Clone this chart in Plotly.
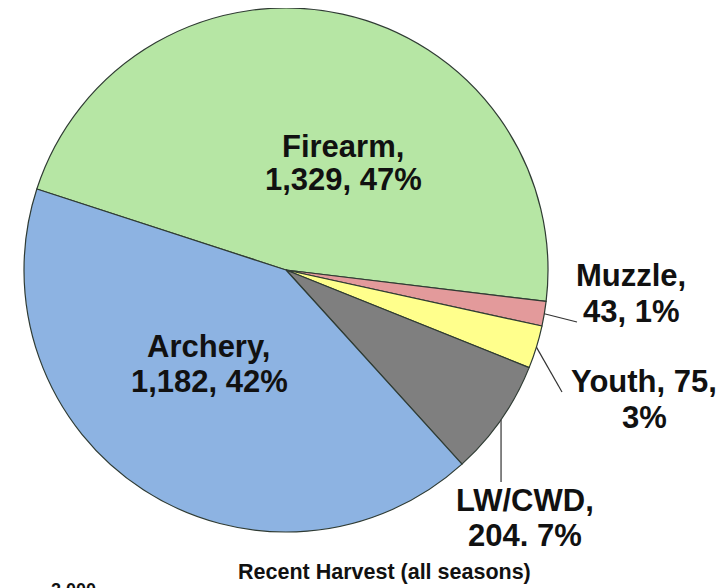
import math
import plotly.graph_objects as go

# Harvest by season type
labels = ["Firearm", "Muzzle", "Youth", "LW/CWD", "Archery"]
values = [1329, 43, 75, 204, 1182]
label_lines = [
    ["Firearm,", "1,329, 47%"],
    ["Muzzle,", "43, 1%"],
    ["Youth, 75,", "3%"],
    ["LW/CWD,", "204. 7%"],
    ["Archery,", "1,182, 42%"],
]
colors = ["#b6e6a4", "#e39a9b", "#ffff8c", "#7f7f7f", "#8db3e2"]
title_text = "Recent Harvest (all seasons)"

# the page body has an 8px margin, so the figure is drawn from (8, 8)
OFF = 8
W, H = 725 - OFF, 588 - OFF
CX, CY, R = 286, 270, 262   # pie centre / radius in window pixels
ROTATION = -72

def px(x):
    return (x - OFF) / W

def py(y):
    return 1 - (y - OFF) / H

fig = go.Figure()
fig.add_trace(
    go.Pie(
        labels=labels,
        values=values,
        sort=False,
        direction="clockwise",
        rotation=ROTATION,
        marker=dict(colors=colors, line=dict(color="#2f3b33", width=1.2)),
        textinfo="none",
        hoverinfo="label+value+percent",
        showlegend=False,
        domain=dict(x=[px(CX - R), px(CX + R)], y=[py(CY + R), min(1, py(CY - R))]),
    )
)

# edge point of each slice, from the values
total = sum(values)
edge = []
cum = 0
for v in values:
    mid = math.radians(ROTATION + 360 * (cum + v / 2) / total)
    edge.append((CX + R * math.sin(mid), CY - R * math.cos(mid)))
    cum += v

# centre x and the two line centres y of each label
label_pos = [(343, 146, 180), (631, 275, 311), (644, 381, 417), (525, 500, 535), (209, 346, 381)]
leader_end = {1: (577, 322), 2: (562, 392), 3: (None, 482)}

font = dict(family="Liberation Sans, Arial, sans-serif", size=31, color="#111111")
for lines, (x, y1, y2) in zip(label_lines, label_pos):
    for t, y in zip(lines, (y1, y2)):
        fig.add_annotation(
            x=px(x), y=py(y), xref="paper", yref="paper",
            text="<b>" + t + "</b>", showarrow=False,
            font=font, xanchor="center", yanchor="middle",
        )

for i, (ex, ey) in leader_end.items():
    sx, sy = edge[i]
    if ex is None:
        ex = sx
    fig.add_shape(
        type="line", xref="paper", yref="paper",
        x0=px(sx), y0=py(sy), x1=px(ex), y1=py(ey),
        line=dict(color="#333333", width=1.2),
    )

fig.add_annotation(
    x=px(384), y=py(572), xref="paper", yref="paper",
    text="<b>" + title_text + "</b>", showarrow=False,
    font=dict(family="Liberation Sans, Arial, sans-serif", size=21.5, color="#111111"),
    xanchor="center", yanchor="middle",
)
# top of a cut-off axis label below the chart
fig.add_annotation(
    x=px(49), y=py(578), xref="paper", yref="paper",
    text="<b>2,000</b>", showarrow=False,
    font=dict(family="Liberation Sans, Arial, sans-serif", size=18, color="#111111"),
    xanchor="left", yanchor="top",
)

fig.update_layout(
    width=W,
    height=H,
    margin=dict(l=0, r=0, t=0, b=0),
    paper_bgcolor="white",
    plot_bgcolor="white",
)

fig.write_html("out.html")
